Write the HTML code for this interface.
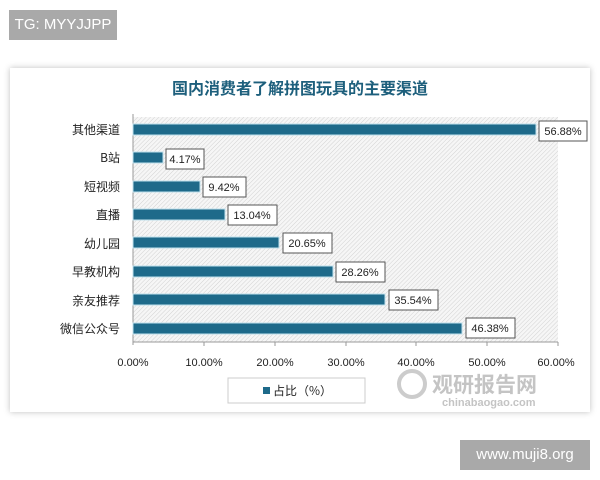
<!DOCTYPE html>
<html><head><meta charset="utf-8"><style>
body{margin:0;width:600px;height:480px;background:#fff;position:relative;overflow:hidden;font-family:"Liberation Sans","Noto Sans CJK SC",sans-serif}
.tg{position:absolute;left:9px;top:10px;width:108px;height:30px;background:#a9a9a9;color:#fff;font-size:15px;line-height:30px;text-align:center}
.ft{position:absolute;left:460px;top:440px;width:130px;height:30px;background:#a9a9a9;color:#fff;font-size:15px;line-height:30px;text-align:center}
.panel{position:absolute;left:10px;top:68px;width:580px;height:344px;background:#fff;box-shadow:0 0 6px rgba(0,0,0,.25)}
</style></head><body>
<div class="tg">TG: MYYJJPP</div>
<div class="panel"></div>
<svg width="600" height="480" style="position:absolute;left:0;top:0">
<defs><pattern id="h" width="3" height="3" patternUnits="userSpaceOnUse" patternTransform="rotate(45)"><rect width="3" height="3" fill="#f6f6f6"/><line x1="0" y1="0" x2="0" y2="3" stroke="#d2d2d2" stroke-width="1"/></pattern></defs>
<text x="300" y="94" text-anchor="middle" font-size="16" fill="#1d5f7c" font-family="Noto Sans CJK SC,sans-serif" font-weight="bold">国内消费者了解拼图玩具的主要渠道</text>
<rect x="133" y="117" width="425" height="225" fill="url(#h)"/>
<line x1="133" y1="114" x2="133" y2="345" stroke="#999"/>
<line x1="133" y1="342" x2="558" y2="342" stroke="#999"/>
<g stroke="#999">
<line x1="204" y1="342" x2="204" y2="346"/><line x1="275" y1="342" x2="275" y2="346"/><line x1="346" y1="342" x2="346" y2="346"/><line x1="416" y1="342" x2="416" y2="346"/><line x1="487" y1="342" x2="487" y2="346"/><line x1="558" y1="342" x2="558" y2="346"/>
</g>
<g font-size="11" fill="#222" text-anchor="middle">
<text x="133" y="366">0.00%</text><text x="204" y="366">10.00%</text><text x="275" y="366">20.00%</text><text x="346" y="366">30.00%</text><text x="416" y="366">40.00%</text><text x="487" y="366">50.00%</text><text x="556" y="366">60.00%</text>
</g>
<g font-family="Noto Sans CJK SC,sans-serif" font-size="12" fill="#222" text-anchor="end">
<text x="120" y="134">其他渠道</text><text x="120" y="162">B站</text><text x="120" y="191">短视频</text><text x="120" y="219">直播</text><text x="120" y="248">幼儿园</text><text x="120" y="276">早教机构</text><text x="120" y="305">亲友推荐</text><text x="120" y="333">微信公众号</text>
</g>
<g fill="#1e6a8a" stroke="#bfe0ec" stroke-width="1">
<rect x="133" y="124" width="403" height="11"/>
<rect x="133" y="152" width="30" height="11"/>
<rect x="133" y="181" width="67" height="11"/>
<rect x="133" y="209" width="92" height="11"/>
<rect x="133" y="237" width="146" height="11"/>
<rect x="133" y="266" width="200" height="11"/>
<rect x="133" y="294" width="252" height="11"/>
<rect x="133" y="323" width="329" height="11"/>
</g>
<g fill="#fff" stroke="#555">
<rect x="539" y="121" width="48" height="20"/>
<rect x="166" y="149" width="38" height="20"/>
<rect x="203" y="177" width="43" height="20"/>
<rect x="228" y="205" width="49" height="20"/>
<rect x="283" y="233" width="49" height="20"/>
<rect x="336" y="262" width="49" height="20"/>
<rect x="389" y="290" width="49" height="20"/>
<rect x="466" y="318" width="49" height="20"/>
</g>
<g font-size="11" fill="#222" text-anchor="middle">
<text x="563" y="135">56.88%</text><text x="185" y="163">4.17%</text><text x="224" y="191">9.42%</text><text x="252" y="219">13.04%</text><text x="307" y="247">20.65%</text><text x="360" y="276">28.26%</text><text x="413" y="304">35.54%</text><text x="490" y="332">46.38%</text>
</g>
<rect x="228" y="378" width="137" height="25" fill="#fff" stroke="#ccc"/>
<rect x="263" y="387" width="7" height="7" fill="#1e6a8a"/>
<text x="273" y="395" font-size="12" fill="#222" font-family="Noto Sans CJK SC,sans-serif">占比（%）</text>
<circle cx="412" cy="384" r="13" fill="none" stroke="#ccc" stroke-width="4"/>
<text x="432" y="392" font-size="21" font-weight="bold" fill="#c4c4c4" font-family="Noto Sans CJK SC,sans-serif">观研报告网</text>
<text x="442" y="406" font-size="11" fill="#c4c4c4" font-weight="bold">chinabaogao.com</text>
</svg>
<div class="ft">www.muji8.org</div>
</body></html>
